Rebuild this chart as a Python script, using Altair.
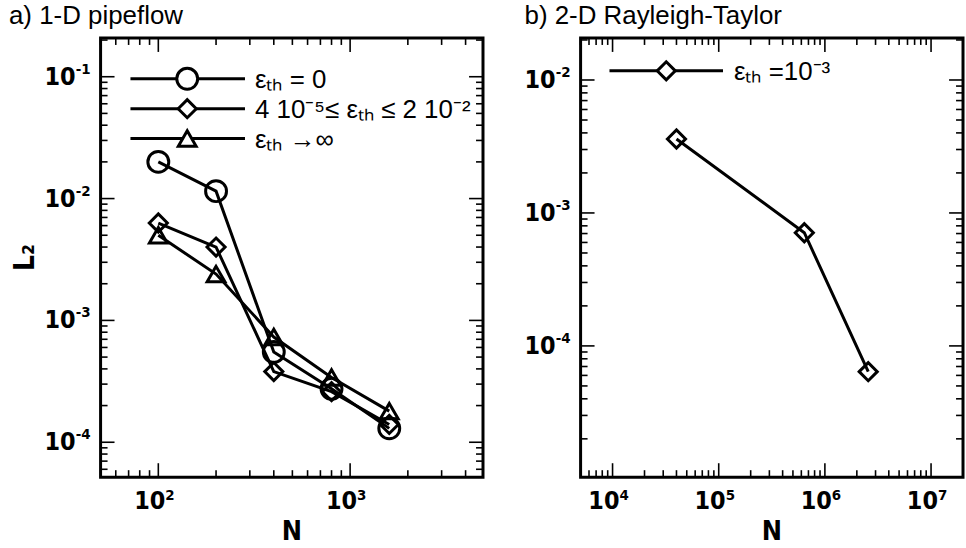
import math
import altair as alt
import pandas as pd

# ---------------- data ----------------
pipe_N = [100, 200, 400, 800, 1600]
pipe_L2_eps0 = [2.0e-2, 1.15e-2, 5.5e-4, 2.75e-4, 1.3e-4]
pipe_L2_epsmid = [6.3e-3, 4.0e-3, 3.8e-4, 2.6e-4, 1.4e-4]
pipe_L2_epsinf = [5.0e-3, 2.4e-3, 7.3e-4, 3.4e-4, 1.8e-4]
pipe_series = ["eps0", "epsmid", "epsinf"]
pipe_shapes = ["circle", "diamond", "triangle-up"]
pipe_sizes = [440, 330, 320]
pipe_legend = ["\u03b5\u209c\u2095 = 0",
               "4 10\u207b\u2075\u2264  \u03b5\u209c\u2095 \u2264 2 10\u207b\u00b2",
               "\u03b5\u209c\u2095 \u2192\u221e"]

rt_N = [4.0e4, 6.4e5, 2.56e6]
rt_L2 = [3.6e-3, 7.1e-4, 6.4e-5]
rt_series = ["rt"]
rt_legend = "\u03b5\u209c\u2095 =10\u207b\u00b3"

pipe_x_exps = [2, 3]
pipe_y_exps = [-4, -3, -2, -1]
rt_x_exps = [4, 5, 6, 7]
rt_y_exps = [-4, -3, -2]

pipe_xdom = [50, 4930]
pipe_ydom = [5.17e-5, 0.208]
rt_xdom = [5000, 2.0e7]
rt_ydom = [1.03e-5, 0.0207]

x_title = "N"
y_title = "L\u2082"

# ---------------- style ----------------
W, H = 384, 441
FONT_B = "Liberation Sans Narrow, DejaVu Sans Condensed, sans-serif"
FONT_N = "Liberation Sans, Arial, sans-serif"
LW = 3
TW = 1.6

pipe_df = pd.DataFrame({
    "N": pipe_N * 3,
    "L2": pipe_L2_eps0 + pipe_L2_epsmid + pipe_L2_epsinf,
    "series": [s for s in pipe_series for _ in pipe_N],
})
rt_df = pd.DataFrame({"N": rt_N, "L2": rt_L2, "series": rt_series * len(rt_N)})
one = pd.DataFrame({"k": [0]})


def majors(exps):
    return [10.0 ** e for e in exps]


def minors(dom):
    out = []
    lo, hi = dom
    for e in range(int(math.floor(math.log10(lo))) - 1, int(math.ceil(math.log10(hi))) + 1):
        for m in range(2, 10):
            v = m * 10.0 ** e
            if lo <= v <= hi:
                out.append(v)
    return out


def tick_rules(xs, ys, xvals, yvals, size):
    dx = pd.DataFrame({"v": xvals})
    dy = pd.DataFrame({"v": yvals})
    X = alt.X("v:Q", scale=xs, axis=None)
    Y = alt.Y("v:Q", scale=ys, axis=None)
    return [
        alt.Chart(dy).mark_rule(color="black", strokeWidth=TW).encode(y=Y, x=alt.value(0), x2=alt.value(size)),
        alt.Chart(dy).mark_rule(color="black", strokeWidth=TW).encode(y=Y, x=alt.value(W - size), x2=alt.value(W)),
        alt.Chart(dx).mark_rule(color="black", strokeWidth=TW).encode(x=X, y=alt.value(H - size), y2=alt.value(H)),
        alt.Chart(dx).mark_rule(color="black", strokeWidth=TW).encode(x=X, y=alt.value(0), y2=alt.value(size)),
    ]


def ylabel_layers(exps, ys):
    d = pd.DataFrame({"v": majors(exps), "b": ["10"] * len(exps), "e": [str(e) for e in exps]})
    base = alt.Chart(d).mark_text(align="right", baseline="alphabetic", dy=8, font=FONT_B,
                                  fontSize=25, fontWeight="bold", color="black").encode(
        x=alt.value(-25), y=alt.Y("v:Q", scale=ys, axis=None), text="b:N")
    ex = alt.Chart(d).mark_text(align="left", baseline="alphabetic", dy=-3, font=FONT_B,
                                fontSize=15, fontWeight="bold", color="black").encode(
        x=alt.value(-25), y=alt.Y("v:Q", scale=ys, axis=None), text="e:N")
    return [base, ex]


def xlabel_layers(exps, xs):
    d = pd.DataFrame({"v": majors(exps), "b": ["10"] * len(exps), "e": [str(e) for e in exps]})
    base = alt.Chart(d).mark_text(align="right", baseline="alphabetic", dx=7, font=FONT_B,
                                  fontSize=25, fontWeight="bold", color="black").encode(
        x=alt.X("v:Q", scale=xs, axis=None), y=alt.value(H + 32), text="b:N")
    ex = alt.Chart(d).mark_text(align="left", baseline="alphabetic", dx=7, font=FONT_B,
                                fontSize=15, fontWeight="bold", color="black").encode(
        x=alt.X("v:Q", scale=xs, axis=None), y=alt.value(H + 23), text="e:N")
    return [base, ex]


def title_layers(with_y):
    out = [alt.Chart(one).mark_text(align="center", baseline="alphabetic", font=FONT_B, fontSize=27,
                                    fontWeight="bold", color="black").encode(
        x=alt.value(W / 2), y=alt.value(H + 63), text=alt.value(x_title))]
    if with_y:
        out.append(alt.Chart(one).mark_text(align="center", baseline="alphabetic", angle=270, font=FONT_B,
                                            fontSize=28, fontWeight="bold", color="black").encode(
            x=alt.value(-67), y=alt.value(H / 2), text=alt.value(y_title)))
    return out


def legend_row(y, shape, size, label, x0=30, x1=145, xm=87, xt=155):
    rule = alt.Chart(one).mark_rule(color="black", strokeWidth=LW).encode(
        x=alt.value(x0), x2=alt.value(x1), y=alt.value(y))
    pt = alt.Chart(one).mark_point(shape=shape, size=size, filled=True, fill="white",
                                   stroke="black", strokeWidth=LW, opacity=1).encode(
        x=alt.value(xm), y=alt.value(y))
    txt = alt.Chart(one).mark_text(align="left", baseline="alphabetic", dy=9, font=FONT_N,
                                   fontSize=26, color="black").encode(
        x=alt.value(xt), y=alt.value(y), text=alt.value(label))
    return [rule, pt, txt]


def panel(df, xdom, ydom, xexps, yexps, with_y, title, title_dx, shapes, sizes, names, legend_layers):
    xs = alt.Scale(type="log", domain=xdom, nice=False)
    ys = alt.Scale(type="log", domain=ydom, nice=False)
    lines = alt.Chart(df).mark_line(color="black", strokeWidth=LW).encode(
        x=alt.X("N:Q", scale=xs, axis=None),
        y=alt.Y("L2:Q", scale=ys, axis=None),
        detail="series:N", order="N:Q")
    layers = [lines]
    for name, shp, sz in zip(names, shapes, sizes):
        layers.append(alt.Chart(df).transform_filter(alt.datum.series == name).mark_point(
            shape=shp, size=sz, filled=False, strokeWidth=LW, color="black", opacity=1).encode(
            x=alt.X("N:Q", scale=xs, axis=None),
            y=alt.Y("L2:Q", scale=ys, axis=None)))
    layers += tick_rules(xs, ys, majors(xexps), majors(yexps), 14)
    layers += tick_rules(xs, ys, minors(xdom), minors(ydom), 7)
    layers += ylabel_layers(yexps, ys) + xlabel_layers(xexps, xs)
    layers += title_layers(with_y) + legend_layers
    return alt.layer(*layers).properties(
        width=W, height=H,
        title=alt.TitleParams(title, anchor="start", font=FONT_N, fontSize=26, fontWeight="normal",
                              color="black", offset=8, dx=title_dx))


leg_a = []
for y, shp, sz, lab in zip([41, 71, 101], pipe_shapes, pipe_sizes, pipe_legend):
    leg_a += legend_row(y, shp, sz, lab)
leg_b = legend_row(33, "diamond", 330, rt_legend, x0=29, x1=143, xm=86, xt=154)

left = panel(pipe_df, pipe_xdom, pipe_ydom, pipe_x_exps, pipe_y_exps, True, "a) 1-D pipeflow", -3,
             pipe_shapes, pipe_sizes, pipe_series, leg_a)
right = panel(rt_df, rt_xdom, rt_ydom, rt_x_exps, rt_y_exps, False, "b) 2-D Rayleigh-Taylor", 0,
              ["diamond"], [330], rt_series, leg_b)

chart = alt.hconcat(left, right, spacing=98, bounds="flush").configure_view(
    stroke="black", strokeWidth=3).properties(
    padding={"left": 7, "top": 0, "right": 0, "bottom": 0}, background="white")

chart.save("out.html", embed_options={"renderer": "svg", "actions": False})
